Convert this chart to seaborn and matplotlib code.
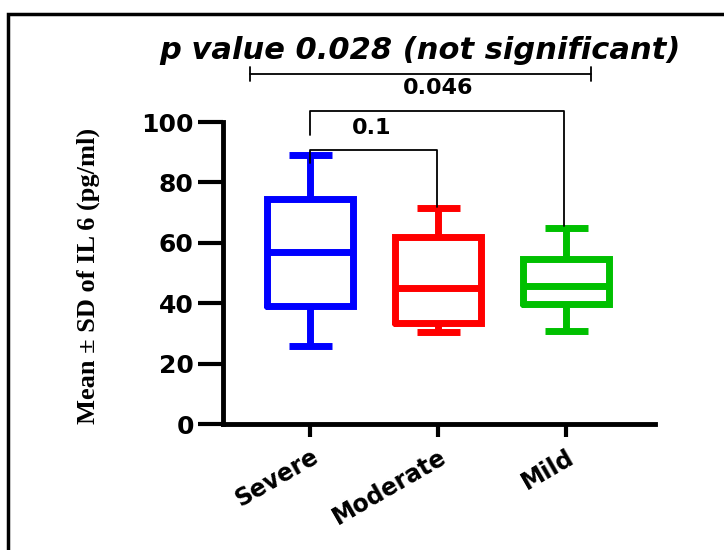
import numpy as np
import pandas as pd
import seaborn as sns
import matplotlib.pyplot as plt
from matplotlib.patches import Rectangle

# five-number summaries: min, Q1, median, Q3, max
groups = ['Severe', 'Moderate', 'Mild']
severe = [26, 39, 57, 74.5, 89]
moderate = [30.5, 33.4, 45, 62, 71.5]
mild = [30.8, 39.7, 45.7, 54.6, 65]
colors = ['#0000FF', '#FF0000', '#00C000']
yticks = [0, 20, 40, 60, 80, 100]

df = pd.DataFrame({
    'group': np.repeat(groups, 5),
    'value': severe + moderate + mild,
})

sns.set_style('ticks', {'text.color': 'black', 'axes.labelcolor': 'black',
                        'xtick.color': 'black', 'ytick.color': 'black',
                        'axes.edgecolor': 'black'})
plt.rcParams['font.family'] = ['DejaVu Sans']

fig = plt.figure(figsize=(7.24, 5.5), dpi=100)
ax = fig.add_axes([0.308, 0.229, 0.597, 0.549])

# whis=(0,100) -> whiskers run to min/max, quartiles are exact with 5 points
butt = dict(solid_capstyle='butt')
sns.boxplot(data=df, x='group', y='value', hue='group', palette=colors,
            fill=False, whis=(0, 100), width=0.67, linewidth=5,
            legend=False, ax=ax, whiskerprops=butt, capprops=butt,
            medianprops=butt, boxprops=dict(solid_joinstyle='miter'))

ax.set_xlim(-0.68, 2.695)
ax.set_ylim(0, 100)
ax.set_yticks(yticks)
ax.set_yticklabels([str(t) for t in yticks], fontsize=18, fontweight='bold')
ax.set_xticks(range(3))
ax.set_xticklabels(groups, fontsize=17, fontweight='bold', rotation=30,
                   ha='right', rotation_mode='anchor')
ax.tick_params(axis='y', length=18, width=3, pad=3)
ax.tick_params(axis='x', length=9, width=3, pad=6)
ax.set_xlabel('')
ax.set_ylabel('Mean ± SD of IL 6 (pg/ml)', fontsize=19, fontweight='bold',
              family='Liberation Serif')
ax.yaxis.set_label_coords(-0.285, 0.49)
sns.despine(ax=ax)
for s in ['left', 'bottom']:
    ax.spines[s].set_linewidth(3.5)

# comparison brackets
bk = dict(color='black', lw=1.3, clip_on=False)
ax.plot([0, 0, 0.99, 0.99], [86.5, 90.7, 90.7, 72], **bk)
ax.text(0.48, 98, '0.1', ha='center', va='center', fontsize=16,
        fontweight='bold')
ax.plot([0, 0, 1.98, 1.98], [95.7, 103.6, 103.6, 65.5], **bk)
ax.text(1.0, 111.3, '0.046', ha='center', va='center', fontsize=16,
        fontweight='bold')
ax.plot([-0.47, 2.19], [115.9, 115.9], **bk)
ax.plot([-0.47, -0.47], [113.6, 118.2], **bk)
ax.plot([2.19, 2.19], [113.6, 118.2], **bk)
ax.text(0.86, 123.8, 'p value 0.028 (not significant)', ha='center',
        va='center', fontsize=22, fontweight='bold', style='italic')

# outer frame
fig.patches.append(Rectangle((0.011, -0.05), 1.2, 1.0245, transform=fig.transFigure,
                             fill=False, lw=2.5, edgecolor='black'))

fig.savefig('out.png', dpi=100)
